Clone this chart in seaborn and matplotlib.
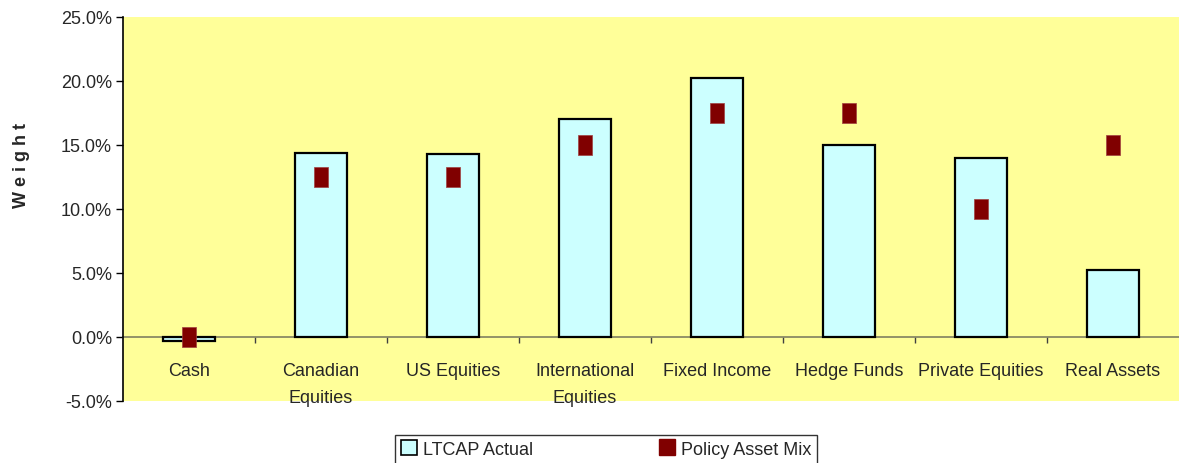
import matplotlib
matplotlib.use("Agg")
import matplotlib.pyplot as plt
import numpy as np
import pandas as pd
import seaborn as sns
from matplotlib.ticker import FuncFormatter, FixedLocator
from matplotlib.lines import Line2D
from matplotlib.patches import Patch

categories = ["Cash", "Canadian\nEquities", "US Equities", "International\nEquities",
              "Fixed Income", "Hedge Funds", "Private Equities", "Real Assets"]
ltcap_actual = [-0.3, 14.4, 14.3, 17.0, 20.2, 15.0, 14.0, 5.2]
policy_mix = [0.0, 12.5, 12.5, 15.0, 17.5, 17.5, 10.0, 15.0]

df = pd.DataFrame({"category": categories, "actual": ltcap_actual, "policy": policy_mix})

sns.set_theme(style="white")
plt.rcParams["font.family"] = ["Liberation Sans Narrow", "Liberation Sans", "DejaVu Sans"]

fig = plt.figure(figsize=(11.79, 4.64), dpi=100, facecolor="white")
ax = fig.add_axes([123 / 1179, 1 - 402 / 464, 1 - 123 / 1179, (402 - 18) / 464])
ax.set_facecolor("#FFFF99")

sns.barplot(data=df, x="category", y="actual", color="#CCFFFF", edgecolor="black",
            linewidth=1.6, width=0.4, saturation=1, ax=ax, zorder=3)

rect = [(-0.36, -0.5), (0.36, -0.5), (0.36, 0.5), (-0.36, 0.5), (-0.36, -0.5)]
sns.scatterplot(data=df, x="category", y="policy", marker=rect, s=190, color="#800000",
                edgecolor="#A04040", linewidth=0.5, ax=ax, zorder=4)

ax.set_ylim(-5, 25)
ax.set_xlim(-0.5, len(categories) - 0.5)
ax.yaxis.set_major_locator(FixedLocator(np.arange(-5, 25.1, 5)))
ax.yaxis.set_major_formatter(FuncFormatter(lambda v, _: f"{v:.1f}%"))

for s in ["top", "right"]:
    ax.spines[s].set_visible(False)
ax.spines["left"].set_color("black")
ax.spines["left"].set_linewidth(1.2)
ax.spines["bottom"].set_position(("data", 0))
ax.spines["bottom"].set_color("#808060")
ax.spines["bottom"].set_linewidth(1.2)
ax.spines["bottom"].set_zorder(2)

ax.tick_params(axis="y", which="major", left=True, direction="out", length=5,
               width=1, color="black", labelsize=13, pad=3)
ax.tick_params(axis="x", which="major", length=0, labelsize=13, pad=18)
ax.set_xticks(np.arange(0.5, len(categories) - 0.5), minor=True)
ax.tick_params(axis="x", which="minor", bottom=True, direction="out", length=4,
               width=1, color="#404040")
for lbl in ax.get_xticklabels():
    lbl.set_verticalalignment("top")
    lbl.set_linespacing(1.75)

ax.set_xlabel("")
ax.set_ylabel("")
ax.grid(False)
fig.text(22 / 1179, 1 - 165 / 464, "W e i g h t", rotation=90, fontsize=13,
         fontweight="bold", ha="center", va="center")

handles = [
    Patch(facecolor="#CCFFFF", edgecolor="black", linewidth=1.2, label="LTCAP Actual"),
    Line2D([], [], marker="s", linestyle="none", markersize=12, color="#800000",
           label="Policy Asset Mix"),
]
fig.legend(handles=handles, loc="upper center", bbox_to_anchor=(606 / 1179, 1 - 436 / 464),
           ncol=2, frameon=True, fancybox=False, edgecolor="black", fontsize=13,
           handlelength=0.9, handleheight=0.9, handletextpad=0.3, columnspacing=7,
           borderpad=0.3, borderaxespad=0)

fig.savefig("out.png", dpi=100, facecolor="white")
